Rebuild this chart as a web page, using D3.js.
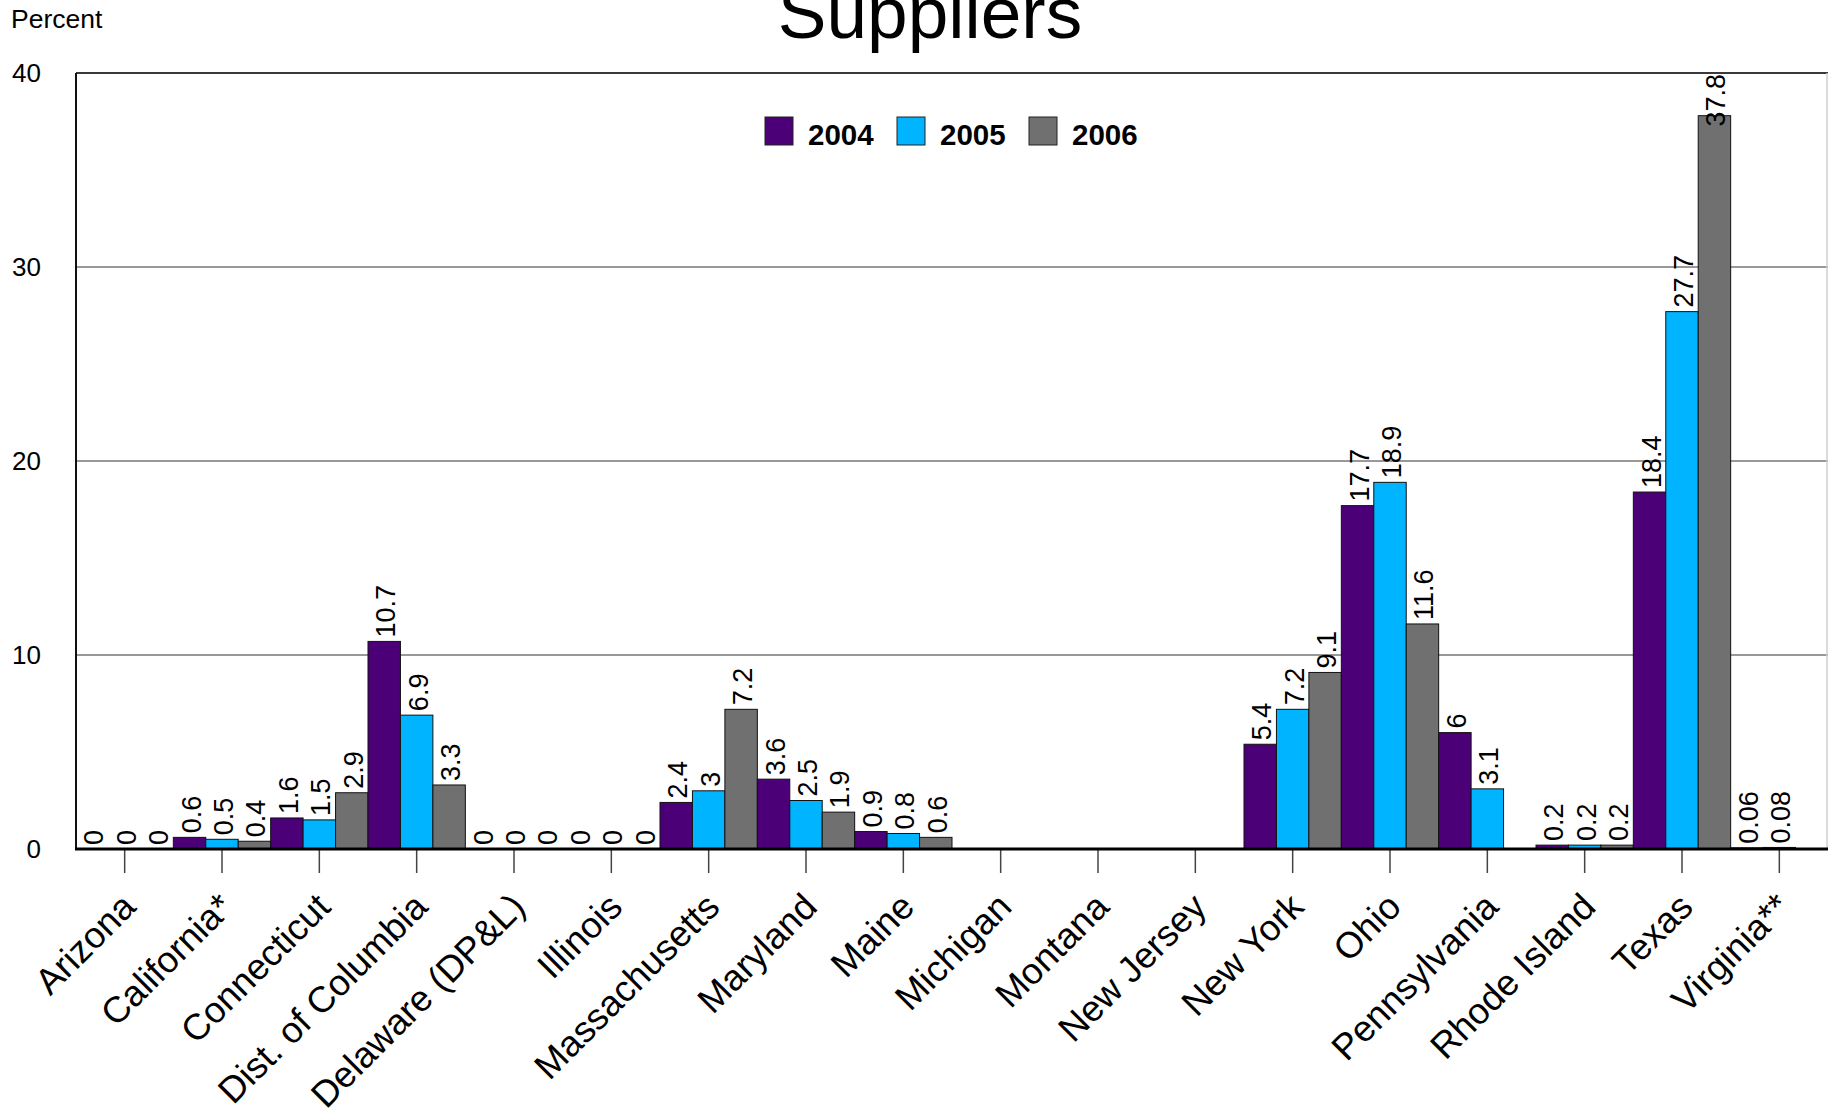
<!DOCTYPE html>
<html>
<head>
<meta charset="utf-8">
<script src="https://cdn.jsdelivr.net/npm/d3@7"></script>
<style>
  html, body { margin: 0; padding: 0; background: #fff; }
  svg { display: block; font-family: "Liberation Sans", Arial, sans-serif; }
</style>
</head>
<body>
<svg id="chart" width="1828" height="1111"></svg>
<script>
// Share of customers served by competitive suppliers, by state and year
const categories = [
  "Arizona", "California*", "Connecticut", "Dist. of Columbia", "Delaware (DP&L)",
  "Illinois", "Massachusetts", "Maryland", "Maine", "Michigan", "Montana",
  "New Jersey", "New York", "Ohio", "Pennsylvania", "Rhode Island", "Texas", "Virginia**"
];
const years = ["2004", "2005", "2006"];
const values2004 = [0, 0.6, 1.6, 10.7, 0, 0, 2.4, 3.6, 0.9, null, null, null, 5.4, 17.7, 6, 0.2, 18.4, 0.06];
const values2005 = [0, 0.5, 1.5, 6.9, 0, 0, 3, 2.5, 0.8, null, null, null, 7.2, 18.9, 3.1, 0.2, 27.7, 0.08];
const values2006 = [0, 0.4, 2.9, 3.3, 0, 0, 7.2, 1.9, 0.6, null, null, null, 9.1, 11.6, null, 0.2, 37.8, null];
const yTicks = [0, 10, 20, 30, 40];
const colors = ["#4b0078", "#00b4ff", "#707070"];

const seriesValues = [values2004, values2005, values2006];

const svg = d3.select("#chart");
const plotLeft = 76, plotRight = 1828, plotTop = 73, plotBottom = 849;

const x = d3.scaleBand().domain(categories).range([plotLeft, plotRight]).paddingInner(0).paddingOuter(0);
const xs = d3.scaleBand().domain(years).range([0, x.bandwidth()]).padding(0);
const y = d3.scaleLinear().domain([0, 40]).range([plotBottom, plotTop]);
const color = d3.scaleOrdinal().domain(years).range(colors);

// Title and unit label
svg.append("text")
  .attr("x", 930).attr("y", 38)
  .attr("text-anchor", "middle")
  .attr("font-size", 73)
  .text("Suppliers");

svg.append("text")
  .attr("x", 11).attr("y", 28)
  .attr("font-size", 26.5)
  .text("Percent");

// Horizontal gridlines
svg.append("g")
  .selectAll("line")
  .data(yTicks.filter(d => d > 0 && d < 40))
  .join("line")
  .attr("x1", plotLeft).attr("x2", plotRight)
  .attr("y1", d => y(d)).attr("y2", d => y(d))
  .attr("stroke", "#333").attr("stroke-width", 1);

// Plot frame: top and right edges
svg.append("line")
  .attr("x1", plotLeft).attr("x2", plotRight)
  .attr("y1", y(40)).attr("y2", y(40))
  .attr("stroke", "#3a3a3a").attr("stroke-width", 2);
svg.append("line")
  .attr("x1", plotRight - 1).attr("x2", plotRight - 1)
  .attr("y1", y(40)).attr("y2", y(0))
  .attr("stroke", "#cfcfcf").attr("stroke-width", 1.5);

// Y axis labels
const yAxis = d3.axisLeft(y).tickValues(yTicks).tickSize(0).tickPadding(0);
const yG = svg.append("g").attr("transform", `translate(41,0)`).call(yAxis);
yG.select(".domain").remove();
yG.selectAll("text")
  .attr("font-size", 26)
  .attr("font-family", "Liberation Sans, Arial, sans-serif")
  .attr("fill", "#000");

// Bars
const rows = [];
categories.forEach((c, i) => {
  years.forEach((yr, j) => {
    const v = seriesValues[j][i];
    if (v !== null) rows.push({ cat: c, year: yr, value: v });
  });
});

const barG = svg.append("g");
barG.selectAll("rect")
  .data(rows)
  .join("rect")
  .attr("x", d => x(d.cat) + xs(d.year))
  .attr("y", d => y(d.value))
  .attr("width", xs.bandwidth())
  .attr("height", d => y(0) - y(d.value))
  .attr("fill", d => color(d.year))
  .attr("stroke", "#111")
  .attr("stroke-width", 1);

// Value labels, rotated above each bar; a label that would run past the
// top of the plot is pushed down so it stays inside the frame.
svg.append("g")
  .selectAll("text")
  .data(rows)
  .join("text")
  .attr("font-size", 27)
  .attr("text-anchor", "start")
  .text(d => String(d.value))
  .attr("transform", function (d) {
    const len = this.getComputedTextLength();
    const cx = x(d.cat) + xs(d.year) + xs.bandwidth() / 2 + 11;
    const ty = Math.max(y(d.value) - 4, plotTop + len + 1);
    return `translate(${cx},${ty}) rotate(-90)`;
  });

// Left axis line and baseline
svg.append("line")
  .attr("x1", plotLeft).attr("x2", plotLeft)
  .attr("y1", y(40)).attr("y2", y(0))
  .attr("stroke", "#111").attr("stroke-width", 2);

const xAxis = d3.axisBottom(x).tickSize(24).tickFormat("");
const xG = svg.append("g").attr("transform", `translate(0,${y(0)})`).call(xAxis);
xG.select(".domain").remove();
xG.selectAll(".tick line").attr("stroke", "#444").attr("stroke-width", 1.5);

svg.append("line")
  .attr("x1", plotLeft - 1).attr("x2", plotRight)
  .attr("y1", y(0)).attr("y2", y(0))
  .attr("stroke", "#000").attr("stroke-width", 3);

// Category labels
svg.append("g")
  .selectAll("text")
  .data(categories)
  .join("text")
  .attr("transform", d => `translate(${x(d) + x.bandwidth() / 2 + 13},${y(0) + 60}) rotate(-45)`)
  .attr("text-anchor", "end")
  .attr("font-size", 36.5)
  .text(d => d);

// Legend
const legend = svg.append("g").attr("transform", "translate(765,117)");
const lg = legend.selectAll("g")
  .data(years)
  .join("g")
  .attr("transform", (d, i) => `translate(${i * 132},0)`);
lg.append("rect")
  .attr("width", 28).attr("height", 28)
  .attr("fill", d => color(d))
  .attr("stroke", "#222").attr("stroke-width", 1);
lg.append("text")
  .attr("x", 43).attr("y", 28)
  .attr("font-size", 29.5)
  .attr("font-weight", "bold")
  .text(d => d);
</script>
</body>
</html>
